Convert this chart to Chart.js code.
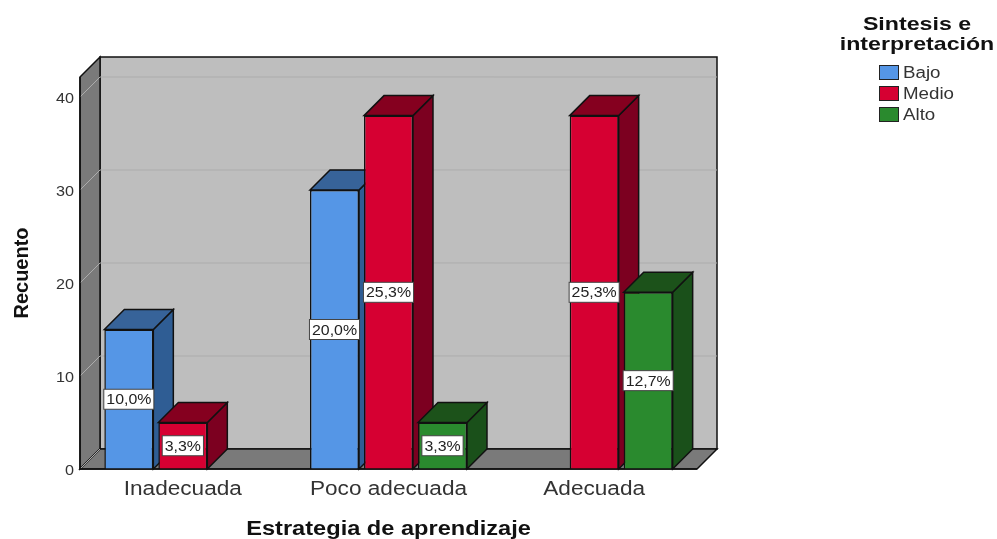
<!DOCTYPE html>
<html>
<head>
<meta charset="utf-8">
<script src="https://cdn.jsdelivr.net/npm/chart.js@4"></script>
<style>
    html, body { margin: 0; padding: 0; background: #fff; }
    canvas { display: block; }
</style>
</head>
<body>
<canvas id="chart" width="997" height="539"></canvas>
<script>
const categories = ['Inadecuada', 'Poco adecuada', 'Adecuada'];
const yTicks = [0, 10, 20, 30, 40];
const bajoValues = [15, 30, null];
const medioValues = [5, 38, 38];
const altoValues = [null, 5, 19];
const bajoLabels = ['10,0%', '20,0%', null];
const medioLabels = ['3,3%', '25,3%', '25,3%'];
const altoLabels = [null, '3,3%', '12,7%'];
const legendTitle = ['Sintesis e', 'interpretación'];

const FONT = '"Liberation Sans", Arial, sans-serif';
const DEPTH = 20;

const styles = [
    { front: '#5596e6', side: '#2f5d94', top: '#376399' },
    { front: '#d60032', side: '#7c0020', top: '#85001f' },
    { front: '#2a8a2e', side: '#1a501a', top: '#1c521a' }
];

function poly(ctx, pts, fill, stroke) {
    ctx.beginPath();
    pts.forEach((p, i) => i ? ctx.lineTo(p[0], p[1]) : ctx.moveTo(p[0], p[1]));
    ctx.closePath();
    ctx.fillStyle = fill;
    ctx.fill();
    if (stroke) {
        ctx.strokeStyle = stroke;
        ctx.lineWidth = 1.5;
        ctx.stroke();
    }
}

// the reference text is stretched sideways, draw it the same way
function wideText(ctx, text, x, y, k) {
    ctx.save();
    ctx.translate(x, y);
    ctx.scale(k, 1);
    ctx.fillText(text, 0, 0);
    ctx.restore();
}

function runStretched(ctx, k, dy, draw) {
    const fillText = ctx.fillText;
    ctx.fillText = function (text, x, y) {
        ctx.save();
        ctx.translate(x, y + dy);
        ctx.scale(k, 1);
        fillText.call(ctx, text, 0, 0);
        ctx.restore();
    };
    draw();
    delete ctx.fillText;
}

function stretchScale(scale, tickK, tickDy, titleK, titleDy) {
    if (scale._stretched) return;
    scale._stretched = true;
    const drawLabels = scale.drawLabels;
    const drawTitle = scale.drawTitle;
    scale.drawLabels = function (area) {
        runStretched(scale.ctx, tickK, tickDy, () => drawLabels.call(this, area));
    };
    scale.drawTitle = function () {
        runStretched(scale.ctx, titleK, titleDy, () => drawTitle.call(this));
    };
}

const box3d = {
    id: 'box3d',
    afterLayout(chart) {
        stretchScale(chart.scales.x, 1.13, 0, 1.18, 2);
        stretchScale(chart.scales.y, 1.08, 2, 1, 0);
    },
    beforeDatasetsDraw(chart) {
        const { ctx, chartArea: a, scales: { y } } = chart;
        const d = DEPTH;
        ctx.save();
        // back wall, left wall, floor
        poly(ctx, [[a.left + d, a.top - d], [a.right + d, a.top - d], [a.right + d, a.bottom - d], [a.left + d, a.bottom - d]], '#bebebe', '#111');
        poly(ctx, [[a.left, a.top], [a.left + d, a.top - d], [a.left + d, a.bottom - d], [a.left, a.bottom]], '#7a7a7a', '#111');
        poly(ctx, [[a.left, a.bottom], [a.left + d, a.bottom - d], [a.right + d, a.bottom - d], [a.right, a.bottom]], '#7a7a7a', '#111');
        // grid lines
        ctx.strokeStyle = '#adadad';
        ctx.lineWidth = 1;
        yTicks.forEach(t => {
            const py = y.getPixelForValue(t);
            ctx.beginPath();
            ctx.moveTo(a.left, py);
            ctx.lineTo(a.left + d, py - d);
            if (t > 0) ctx.lineTo(a.right + d, py - d);
            ctx.stroke();
        });
        // side and top faces, the fronts come from the library on top of them
        const bars = [];
        chart.data.datasets.forEach((ds, i) => {
            chart.getDatasetMeta(i).data.forEach((el, j) => {
                if (ds.data[j] !== null) bars.push({ el, s: styles[i] });
            });
        });
        bars.sort((p, q) => p.el.x - q.el.x);
        bars.forEach(({ el, s }) => {
            const x0 = el.x - el.width / 2;
            const x1 = el.x + el.width / 2;
            poly(ctx, [[x1, el.y], [x1 + d, el.y - d], [x1 + d, el.base - d], [x1, el.base]], s.side, '#111');
            poly(ctx, [[x0, el.y], [x0 + d, el.y - d], [x1 + d, el.y - d], [x1, el.y]], s.top, '#111');
        });
        ctx.restore();
    },
    afterDatasetsDraw(chart) {
        const { ctx, chartArea: a } = chart;
        ctx.save();
        // front edge of the floor
        ctx.strokeStyle = '#111';
        ctx.lineWidth = 1.5;
        ctx.beginPath();
        ctx.moveTo(a.left, a.top);
        ctx.lineTo(a.left, a.bottom);
        ctx.lineTo(a.right, a.bottom);
        ctx.stroke();

        // percentage boxes
        ctx.font = '15px ' + FONT;
        ctx.textAlign = 'center';
        ctx.textBaseline = 'middle';
        chart.data.datasets.forEach((ds, i) => {
            chart.getDatasetMeta(i).data.forEach((el, j) => {
                const text = ds.pctLabels[j];
                if (!text) return;
                const cy = (el.y + el.base) / 2;
                const w = ctx.measureText(text).width * 1.06 + 5;
                ctx.fillStyle = '#fff';
                ctx.fillRect(el.x - w / 2, cy - 10, w, 20);
                ctx.strokeStyle = '#444';
                ctx.lineWidth = 1;
                ctx.strokeRect(el.x - w / 2, cy - 10, w, 20);
                ctx.fillStyle = '#222';
                wideText(ctx, text, el.x, cy + 1, 1.06);
            });
        });

        // legend
        ctx.fillStyle = '#111';
        ctx.font = 'bold 19px ' + FONT;
        legendTitle.forEach((line, i) => wideText(ctx, line, 917, 25 + i * 19.5, 1.22));
        ctx.textAlign = 'left';
        ctx.font = '16px ' + FONT;
        chart.data.datasets.forEach((ds, i) => {
            const rowY = 73 + i * 21;
            ctx.fillStyle = ds.backgroundColor;
            ctx.fillRect(879.5, rowY - 7.5, 19, 14);
            ctx.strokeStyle = '#222';
            ctx.lineWidth = 1;
            ctx.strokeRect(879.5, rowY - 7.5, 19, 14);
            ctx.fillStyle = '#333';
            wideText(ctx, ds.label, 903, rowY + 1, 1.17);
        });
        ctx.restore();
    }
};

function makeDataset(label, data, pctLabels, style) {
    return {
        label: label,
        data: data,
        pctLabels: pctLabels,
        backgroundColor: style.front,
        borderColor: '#111',
        borderWidth: 1.5,
        barPercentage: 0.907,
        categoryPercentage: 0.7877
    };
}

new Chart(document.getElementById('chart').getContext('2d'), {
    type: 'bar',
    data: {
        labels: categories,
        datasets: [
            makeDataset('Bajo', bajoValues, bajoLabels, styles[0]),
            makeDataset('Medio', medioValues, medioLabels, styles[1]),
            makeDataset('Alto', altoValues, altoLabels, styles[2])
        ]
    },
    options: {
        responsive: false,
        animation: false,
        layout: { padding: { top: 77, right: 300, left: 0, bottom: 0 } },
        plugins: { legend: { display: false }, tooltip: { enabled: false } },
        scales: {
            x: {
                grid: { display: false, drawTicks: false },
                border: { display: false },
                ticks: {
                    color: '#333',
                    font: { family: FONT, size: 20 },
                    padding: 8,
                    maxRotation: 0,
                    autoSkip: false
                },
                title: {
                    display: true,
                    text: 'Estrategia de aprendizaje',
                    color: '#111',
                    font: { family: FONT, size: 20, weight: 'bold' },
                    padding: { top: 0, bottom: 0 }
                },
                afterFit(scale) { scale.height = 70; }
            },
            y: {
                min: 0,
                max: 42.15,
                grid: { display: false, drawTicks: false },
                border: { display: false },
                ticks: {
                    stepSize: 10,
                    includeBounds: false,
                    color: '#333',
                    font: { family: FONT, size: 15 },
                    padding: 6
                },
                title: {
                    display: true,
                    text: 'Recuento',
                    color: '#111',
                    font: { family: FONT, size: 20, weight: 'bold' },
                    padding: { top: 10, bottom: 0 }
                },
                afterFit(scale) { scale.width = 80; }
            }
        }
    },
    plugins: [box3d]
});
</script>
</body>
</html>
